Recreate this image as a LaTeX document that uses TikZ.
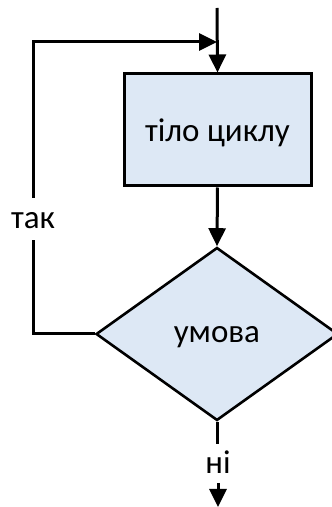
\documentclass[tikz,border=0pt]{standalone}
\usepackage{fontspec}
\setmainfont{Carlito}
\usetikzlibrary{arrows.meta,shapes.geometric}
\definecolor{boxfill}{HTML}{DDE8F5}
\begin{document}
\begin{tikzpicture}[x=1pt,y=1pt,
  every node/.style={font=\fontsize{33}{38}\selectfont},
  line/.style={line width=3pt,draw=black},
  arr/.style={line,-{Triangle[length=18pt,width=17pt]}},
  procbox/.style={line,fill=boxfill,minimum width=187pt,minimum height=112pt,inner sep=0pt},
  decision/.style={line,fill=boxfill,diamond,minimum width=242pt,minimum height=173pt,inner sep=0pt,line width=2.6pt},
  lbl/.style={inner sep=0pt}]
\useasboundingbox (0,0) rectangle (332,507);
\node[procbox] (body) at (217.5,377) {};
\node[anchor=base] (bodytext) at (body.center) [yshift=-12pt] {тіло циклу};
\node[decision] (cond) at (217,173) {};
\node[anchor=base] (condtext) at (cond.center) [yshift=-9pt] {умова};
\coordinate (top) at (217,499);
\coordinate (join) at (217,465);
\coordinate (corner) at (33,173);
\node[lbl,anchor=base] (tak) at (33,278) {так};
\coordinate (takb) at (33,267);
\coordinate (takt) at (33,309);
\node[lbl,anchor=base] (ni) at (218,34) {ні};
\coordinate (n1) at (217,63);
\coordinate (n2) at (218,24);
\coordinate (bot) at (218,0);
\draw[arr] (top) -- (body.north);
\draw[arr] (body.south) -- (cond.north);
\draw[line] (cond.west) -- (corner) -- (takb);
\draw[arr] (takt) |- (join);
\draw[line] (cond.south) -- (n1);
\draw[arr] (n2) -- (bot);
\end{tikzpicture}
\end{document}
